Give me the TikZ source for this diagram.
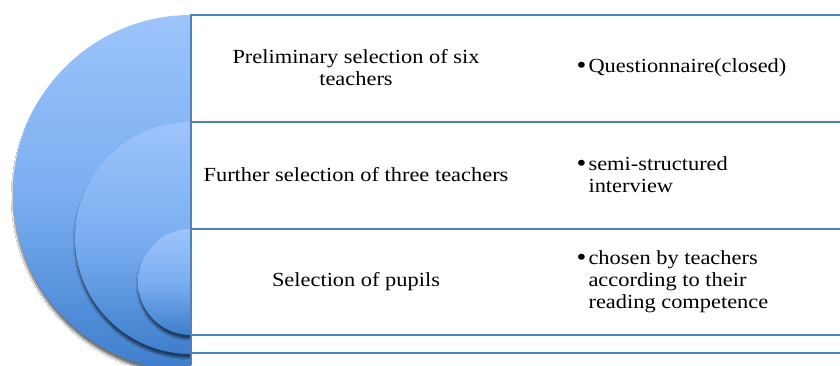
\documentclass[tikz,border=0pt]{standalone}
\usepackage{fontspec}
\setmainfont{Liberation Serif}[FakeStretch=1.12]
\usetikzlibrary{shadows.blur}
\definecolor{ctop}{HTML}{9DC4FB}
\definecolor{cmid}{HTML}{7BAEF1}
\definecolor{cbot}{HTML}{3D7ECC}
\definecolor{rule}{HTML}{4F81BD}
\tikzset{
  disc/.style={top color=ctop, bottom color=cbot, middle color=cmid,
    blur shadow={shadow xshift=0pt, shadow yshift=-4pt, shadow blur steps=6, shadow opacity=55}},
  rowline/.style={draw=rule, line width=1.4pt},
  lefttext/.style={align=center, font=\fontsize{20}{22}\selectfont},
  righttext/.style={align=left, anchor=west, font=\fontsize{20}{22}\selectfont},
}
\newcommand{\bul}{\makebox[0pt][r]{\raisebox{-0.5pt}{\scalebox{1.25}{•}}\hspace{2pt}}}
\begin{document}
\begin{tikzpicture}[x=1pt,y=-1pt]
\useasboundingbox (0,0) rectangle (840,365);
\fill[white] (0,0) rectangle (840,365);
\begin{scope}
  \clip (0,0) rectangle (191,365);
  \path[disc] (191,193) circle[radius=178];
  \path[disc] (191,238) circle[radius=116];
  \path[disc] (191,282) circle[radius=53];
\end{scope}
% table lines
\coordinate (tl) at (191,15);
\coordinate (bl) at (191,365);
\coordinate (tr) at (840,15);
\coordinate (r1l) at (191,122); \coordinate (r1r) at (840,122);
\coordinate (r2l) at (191,229); \coordinate (r2r) at (840,229);
\coordinate (r3l) at (191,335); \coordinate (r3r) at (840,335);
\coordinate (r4l) at (191,353); \coordinate (r4r) at (840,353);
\draw[rowline] (bl) -- (tl) -- (tr);
\draw[rowline] (r1l) -- (r1r);
\draw[rowline] (r2l) -- (r2r);
\draw[rowline] (r3l) -- (r3r);
\draw[rowline] (r4l) -- (r4r);
% texts
\node[lefttext] (a1) at (356,68) {Preliminary selection of six\\teachers};
\node[lefttext] (a2) at (356,175) {Further selection of three teachers};
\node[lefttext] (a3) at (356,282) {Selection of pupils};
\node[righttext] (b1) at (585,68) {\bul Questionnaire(closed)};
\node[righttext] (b2) at (585,175) {\bul semi-structured\\interview};
\node[righttext] (b3) at (585,282) {\bul chosen by teachers\\according to their\\reading competence};
\end{tikzpicture}
\end{document}
